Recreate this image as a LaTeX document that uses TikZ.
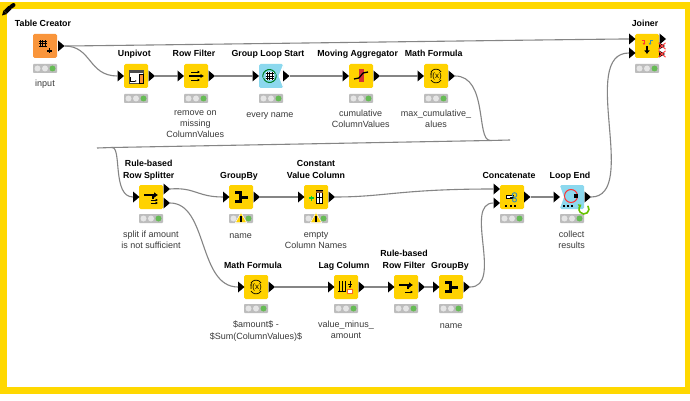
\documentclass[tikz,border=0pt]{standalone}
\usepackage{fontspec}
\setmainfont{Liberation Sans}
\usepackage{xcolor}
\usetikzlibrary{shapes.geometric}
\usetikzlibrary{arrows.meta}
\definecolor{framecol}{HTML}{FFD800}
\definecolor{nodeyellow}{HTML}{FFD200}
\definecolor{nodeorange}{HTML}{F9953B}
\definecolor{nodeblue}{HTML}{8CD8EE}
\definecolor{wirecol}{HTML}{858585}
\definecolor{lightgreen}{HTML}{66BB55}
\definecolor{lightgrey}{HTML}{BDBDBD}
\definecolor{captioncol}{HTML}{3A3A3A}
\tikzset{
    kbox/.style={rectangle, rounded corners=1.5pt, minimum size=24pt, inner sep=0pt},
    port/.style={isosceles triangle, isosceles triangle stretches, fill=black, inner sep=0pt, outer sep=0pt,
        minimum height=6.5pt, minimum width=11pt, anchor=west},
    wire/.style={draw=wirecol, line width=1.1pt},
    title/.style={font=\bfseries\fontsize{8.8}{11.2}\selectfont, align=center, anchor=base, inner sep=0pt},
    caption/.style={font=\fontsize{9}{11.2}\selectfont, text=captioncol, align=center, anchor=north,
        inner sep=0pt, execute at begin node={\rule{0pt}{7pt}}},
    lights/.pic={
        \fill[lightgrey, rounded corners=0.8pt] (-12,-4.5) rectangle (12,4.5);
        \fill[white!90!black] (-7.5,0) circle (3);
        \fill[white!90!black] (0,0) circle (3);
        \fill[lightgreen] (7.5,0) circle (3);
    },
    warnsign/.pic={
        \fill[nodeyellow, draw=white, line width=0.5pt] (0,-5.5) -- (5.5,4.5) -- (-5.5,4.5) -- cycle;
        \fill[black] (-0.7,-2.5) rectangle (0.7,1.5);
        \fill[black] (-0.7,2.3) rectangle (0.7,3.8);
    },
    crossport/.pic={
        \fill[black] (-3,-3.5) -- (3,0) -- (-3,3.5) -- cycle;
        \draw[red!75!white, line width=1pt] (-3.5,-3.2) -- (3.5,3.2);
        \draw[red!75!white, line width=1pt] (-3.5,3.2) -- (3.5,-3.2);
    },
    tableicon/.pic={
        \draw[black, line width=0.6pt, step=2.5pt] (-6,-6) grid (1.5,1.5);
        \draw[black, line width=1.2pt] (2,5) -- (7,5);
        \draw[black, line width=1.2pt] (4.5,2.5) -- (4.5,7.5);
    },
    unpivoticon/.pic={
        \fill[white] (-7,-6) rectangle (7,7);
        \draw[black!70, line width=0.6pt] (-7,-6) rectangle (7,7);
        \fill[black!70] (-7,-6) rectangle (7,-3);
        \fill[nodeorange, draw=black] (3,-2) rectangle (7,7);
        \draw[black, line width=0.8pt, -{Latex[length=2pt]}] (-6,1) -- (-6,5) -- (1,5);
    },
    filtericon/.pic={
        \draw[black, line width=1.2pt, -{Latex[length=3.5pt,width=4.5pt]}] (-7,0) -- (8,0);
        \draw[black, line width=0.7pt, -{Latex[length=2.5pt,width=3pt]}] (-5,-4) -- (4,-4);
        \draw[black, line width=0.7pt, -{Latex[length=2.5pt,width=3pt]}] (-5,4) -- (4,4);
    },
    loopstarticon/.pic={
        \draw[green!50!black!70!teal, line width=1pt] (6.5,-1.5) arc (-13:160:6.5);
        \draw[green!50!black!70!teal, line width=1pt] (-6.5,1.5) arc (167:340:6.5);
        \fill[white] (-4,-4) rectangle (4,4);
        \draw[black, line width=0.5pt, step=2.67pt] (-4,-4) grid (4,4);
    },
    movingicon/.pic={
        \fill[red!80!black!80!white] (-2.5,-6.5) rectangle (2.5,6.5);
        \draw[black, line width=1.3pt] (-7,3) -- (-2,2);
        \draw[black, line width=1.3pt] (-2,2) -- (2,-3);
        \draw[black, line width=1.3pt] (2,-3) -- (7,-4);
    },
    mathicon/.pic={
        \draw[black, line width=0.7pt] (-5,-4) arc (210:330:5.8);
        \draw[black, line width=0.7pt] (-5,4) arc (150:30:5.8);
        \node[inner sep=0pt, font=\fontsize{8}{8}\selectfont] (mathtxt) at (0,0) {f(x)};
    },
    groupicon/.pic={
        \fill[black] (-6,-6) rectangle (0,-3);
        \fill[black] (-6,3) rectangle (0,6);
        \fill[black] (-2.5,-6) rectangle (1,6);
        \fill[black] (1,-1.5) rectangle (7,1.5);
    },
    splittericon/.pic={
        \draw[black, line width=1.8pt, -{Latex[length=4pt,width=6pt]}] (-7,-2) -- (7,-2);
        \draw[black, line width=1.1pt] (2,-2) -- (2,2);
        \draw[black, line width=0.7pt, -{Latex[length=2.5pt,width=3pt]}] (-0.5,3) -- (7,3);
        \draw[black, line width=0.7pt, -{Latex[length=2.5pt,width=3pt]}] (-0.5,6) -- (7,6);
    },
    ruleicon/.pic={
        \draw[black, line width=1.8pt, -{Latex[length=4pt,width=6pt]}] (-7,-2) -- (7,-2);
        \draw[black, line width=1.1pt] (2,-2) -- (2,2);
        \draw[black, line width=0.7pt, -{Latex[length=2.5pt,width=3pt]}] (-1,5) -- (7,5);
    },
    constanticon/.pic={
        \fill[white] (0,-6.5) rectangle (6.5,6.5);
        \draw[black, line width=0.6pt] (0,-6.5) rectangle (6.5,6.5);
        \draw[black, line width=0.6pt] (3.2,-4) -- (3.2,6.5);
        \draw[black, line width=0.6pt] (0,0) -- (6.5,0);
        \fill[nodeorange!60!black] (0,-6.5) rectangle (6.5,-4);
        \draw[green!60!teal, line width=1.1pt] (-7,1) -- (-2,1);
        \draw[green!60!teal, line width=1.1pt] (-4.5,-1.5) -- (-4.5,3.5);
    },
    lagicon/.pic={
        \draw[black, line width=1pt] (-7,-6) -- (-7,4);
        \draw[black, line width=1pt] (-4,-6) -- (-4,4);
        \draw[black, line width=1pt] (-1,-6) -- (-1,4);
        \draw[black, line width=0.7pt] (-8,4) -- (0,4);
        \draw[black, line width=0.7pt, -{Latex[length=2pt,width=3pt]}] (4,-6) -- (4,1);
        \draw[black, line width=0.7pt] (2,-3) -- (6,-3);
        \draw[nodeorange!70!red, line width=1pt, fill=white] (1.5,2) rectangle (6,6.5);
    },
    concaticon/.pic={
        \draw[black, line width=0.7pt, fill=white] (-6,-2) rectangle (1,1);
        \draw[cyan!70!black, line width=0.9pt] (2.5,-2) circle (2.3);
        \draw[cyan!70!black, line width=0.9pt] (2.5,3) circle (2);
        \draw[black, line width=1pt] (-2,0) -- (1,0);
        \fill[black] (-7,7.5) rectangle (-5,9.5);
        \fill[black] (-2.5,7.5) rectangle (-0.5,9.5);
        \fill[black] (2,7.5) rectangle (4,9.5);
    },
    loopendicon/.pic={
        \draw[red!80!white, line width=1pt] (-1,-1) circle (6.5);
        \fill[black] (2,-3) rectangle (6,1);
        \fill[black] (-9,7.5) rectangle (-7,9.5);
        \fill[black] (-5,7.5) rectangle (-3,9.5);
        \fill[black] (-1,7.5) rectangle (1,9.5);
    },
    joinericon/.pic={
        \draw[red!80!white, line width=0.9pt, -{Latex[length=2pt,width=3pt]}] (-5.5,-6) -- (-3,-6) -- (-3,-1);
        \draw[cyan!70!black, line width=0.9pt, -{Latex[length=2pt,width=3pt]}] (5.5,-6) -- (3,-6) -- (3,-1);
        \draw[black, line width=1.5pt, -{Latex[length=3.5pt,width=6pt]}] (0,0) -- (0,8);
    },
    looparrow/.pic={
        \draw[green!60!black!60!yellow, line width=1.6pt, -{Latex[length=3pt,width=5pt]}] (3.8,-3.2) arc (-40:240:5);
    },
}
\begin{document}
\begin{tikzpicture}[
    x=1pt, y=-1pt
]
\useasboundingbox (0,0) rectangle (690,401);
% frame
\fill[framecol] (0,2) rectangle (690,394);
\fill[white] (7,9) rectangle (685,387);
\fill[black] (2,15.5) -- (3.5,10.5) -- (7,14) -- cycle;
\draw[black, line width=4.5pt] (5.5,12) -- (10,7.5);
\draw[black, line width=4pt, line cap=round] (11,6.8) -- (13.5,5);

% node boxes
\node[kbox, fill=nodeorange] at (45,46) (tablecreator) {};
\node[kbox, fill=nodeyellow] at (136,76) (unpivot) {};
\node[kbox, fill=nodeyellow] at (196,76) (rowfilter) {};
\node[kbox, fill=nodeblue] at (271,76) (grouploop) {};
\node[kbox, fill=nodeyellow] at (361,76) (movingagg) {};
\node[kbox, fill=nodeyellow] at (436,76) (mathone) {};
\node[kbox, fill=nodeyellow] at (647,46) (joiner) {};
\node[kbox, fill=nodeyellow] at (151,197) (splitter) {};
\node[kbox, fill=nodeyellow] at (241,197) (groupone) {};
\node[kbox, fill=nodeyellow] at (316,197) (constant) {};
\node[kbox, fill=nodeyellow] at (512,197) (concat) {};
\node[kbox, fill=nodeblue] at (572,197) (loopend) {};
\node[kbox, fill=nodeyellow] at (256,287) (mathtwo) {};
\node[kbox, fill=nodeyellow] at (346,287) (lagcol) {};
\node[kbox, fill=nodeyellow] at (406,287) (rulefilter) {};
\node[kbox, fill=nodeyellow] at (451,287) (grouptwo) {};

% notches of the loop nodes
\fill[white] (283.5,63.5) -- (278.5,76) -- (283.5,88.5) -- cycle;
\fill[white] (559.5,184.5) -- (564,197) -- (559.5,209.5) -- cycle;

% icons
\pic at (45,46) {tableicon};
\pic at (136,76) {unpivoticon};
\pic at (196,76) {filtericon};
\pic at (269.5,76) {loopstarticon};
\pic at (361,76) {movingicon};
\pic at (436,76) {mathicon};
\pic at (647,46) {joinericon};
\pic at (151,197) {splittericon};
\pic at (241,197) {groupicon};
\pic at (316,197) {constanticon};
\pic at (512,197) {concaticon};
\pic at (572,197) {loopendicon};
\pic at (256,287) {mathicon};
\pic at (346,287) {lagicon};
\pic at (406,287) {ruleicon};
\pic at (451,287) {groupicon};

% traffic lights
\pic at (45,68.5) {lights};
\pic at (136,98.5) {lights};
\pic at (196,98.5) {lights};
\pic at (271,98.5) {lights};
\pic at (361,98.5) {lights};
\pic at (436,98.5) {lights};
\pic at (647,68.5) {lights};
\pic at (151,218.5) {lights};
\pic at (241,218.5) {lights};
\pic at (316,218.5) {lights};
\pic at (512,218.5) {lights};
\pic at (572,218.5) {lights};
\pic at (256,308.5) {lights};
\pic at (346,308.5) {lights};
\pic at (406,308.5) {lights};
\pic at (451,308.5) {lights};
\pic at (241,218) {warnsign};
\pic at (316,218) {warnsign};
\pic at (584,209) {looparrow};

% ports
\node[port] at (58,46) (tablecreatorout) {};
\node[port] at (117.5,76) (unpivotin) {};
\node[port] at (148.5,76) (unpivotout) {};
\node[port] at (177.5,76) (rowfilterin) {};
\node[port] at (208.5,76) (rowfilterout) {};
\node[port] at (252.5,76) (grouploopin) {};
\node[port] at (283,76) (grouploopout) {};
\node[port] at (342.5,76) (movingaggin) {};
\node[port] at (373.5,76) (movingaggout) {};
\node[port] at (417.5,76) (mathonein) {};
\node[port] at (448.5,76) (mathoneout) {};
\node[port] at (629,39) (joinerinone) {};
\node[port] at (629,53) (joinerintwo) {};
\node[port] at (659.5,39) (joinerout) {};
\node[port] at (133,197) (splitterin) {};
\node[port] at (163.5,189) (splitteroutone) {};
\node[port] at (163.5,203) (splitterouttwo) {};
\node[port] at (223,197) (grouponein) {};
\node[port] at (253.5,197) (grouponeout) {};
\node[port] at (298,197) (constantin) {};
\node[port] at (328.5,197) (constantout) {};
\node[port] at (493.5,189) (concatinone) {};
\node[port] at (493.5,203) (concatintwo) {};
\node[port] at (524,197) (concatout) {};
\node[port] at (553.5,197) (loopendin) {};
\node[port] at (584.5,197) (loopendout) {};
\node[port] at (238,287) (mathtwoin) {};
\node[port] at (268.5,287) (mathtwoout) {};
\node[port] at (328,287) (lagcolin) {};
\node[port] at (358.5,287) (lagcolout) {};
\node[port] at (388,287) (rulefilterin) {};
\node[port] at (418.5,287) (rulefilterout) {};
\node[port] at (433,287) (grouptwoin) {};
\node[port] at (463.5,287) (grouptwoout) {};
\pic at (662,46) {crossport};
\pic at (662,54) {crossport};

% free ends of the long line
\coordinate (bendright) at (510,140);
\coordinate (bendmid) at (490,140.5);
\coordinate (bendleft) at (112,147.5);
\coordinate (stubleft) at (97,148);

% wires
\draw[wire] (tablecreatorout.east) .. controls (85,46) and (640,38.5) .. (joinerinone.west);
\draw[wire] (tablecreatorout.east) .. controls (92,46) and (88,76) .. (unpivotin.west);
\draw[wire] (unpivotout.east) -- (rowfilterin.west);
\draw[wire] (rowfilterout.east) -- (grouploopin.west);
\draw[wire] (grouploopout.east) -- (movingaggin.west);
\draw[wire] (movingaggout.east) -- (mathonein.west);
\draw[wire] (mathoneout.east) .. controls (488,76) and (476,140) .. (bendmid);
\draw[wire] (bendright) -- (bendmid) -- (bendleft) -- (stubleft);
\draw[wire] (bendleft) .. controls (122,147) and (112,197) .. (splitterin.west);
\draw[wire] (splitteroutone.east) .. controls (195,187) and (197,197) .. (grouponein.west);
\draw[wire] (splitterouttwo.east) .. controls (208,203) and (198,287) .. (mathtwoin.west);
\draw[wire] (grouponeout.east) -- (constantin.west);
\draw[wire] (constantout.east) .. controls (385,197) and (400,189) .. (concatinone.west);
\draw[wire] (concatout.east) -- (loopendin.west);
\draw[wire] (loopendout.east) .. controls (640,197) and (578,53) .. (joinerintwo.west);
\draw[wire] (mathtwoout.east) -- (lagcolin.west);
\draw[wire] (lagcolout.east) -- (rulefilterin.west);
\draw[wire] (rulefilterout.east) -- (grouptwoin.west);
\draw[wire] (grouptwoout.east) .. controls (504,287) and (463,203) .. (concatintwo.west);

% titles
\node[title] at (43,27) (tablecreatortitle) {Table Creator};
\node[title] at (134.3,57) (unpivottitle) {Unpivot};
\node[title] at (194,57) (rowfiltertitle) {Row Filter};
\node[title] at (268,57) (grouplooptitle) {Group Loop Start};
\node[title] at (357.7,57) (movingaggtitle) {Moving Aggregator};
\node[title] at (433.7,57) (mathonetitle) {Math Formula};
\node[title] at (645,27) (joinertitle) {Joiner};
\node[title] at (148.7,178) (splittertitle) {Rule-based\\Row Splitter};
\node[title] at (239,178) (grouponetitle) {GroupBy};
\node[title] at (316,178) (constanttitle) {Constant\\Value Column};
\node[title] at (509,178) (concattitle) {Concatenate};
\node[title] at (570,178) (loopendtitle) {Loop End};
\node[title] at (253,268) (mathtwotitle) {Math Formula};
\node[title] at (344,268) (lagcoltitle) {Lag Column};
\node[title] at (404,268) (rulefiltertitle) {Rule-based\\Row Filter};
\node[title] at (450,268) (grouptwotitle) {GroupBy};

% captions
\node[caption] at (45,79.5) (tablecreatorcap) {input};
\node[caption] at (195.3,110) (rowfiltercap) {remove on\\missing\\ColumnValues};
\node[caption] at (270,110) (grouploopcap) {every name};
\node[caption] at (360.7,110) (movingaggcap) {cumulative\\ColumnValues};
\node[caption] at (436,110) (mathonecap) {max\_cumulative\_\\alues};
\node[caption] at (151,231) (splittercap) {split if amount\\is not sufficient};
\node[caption] at (240.7,231) (grouponecap) {name};
\node[caption] at (316,231) (constantcap) {empty\\Column Names};
\node[caption] at (571.7,231) (loopendcap) {collect\\results};
\node[caption] at (256,321) (mathtwocap) {\$amount\$ -\\\$Sum(ColumnValues)\$};
\node[caption] at (346,321) (lagcolcap) {value\_minus\_\\amount};
\node[caption] at (451,321) (grouptwocap) {name};
\end{tikzpicture}
\end{document}
